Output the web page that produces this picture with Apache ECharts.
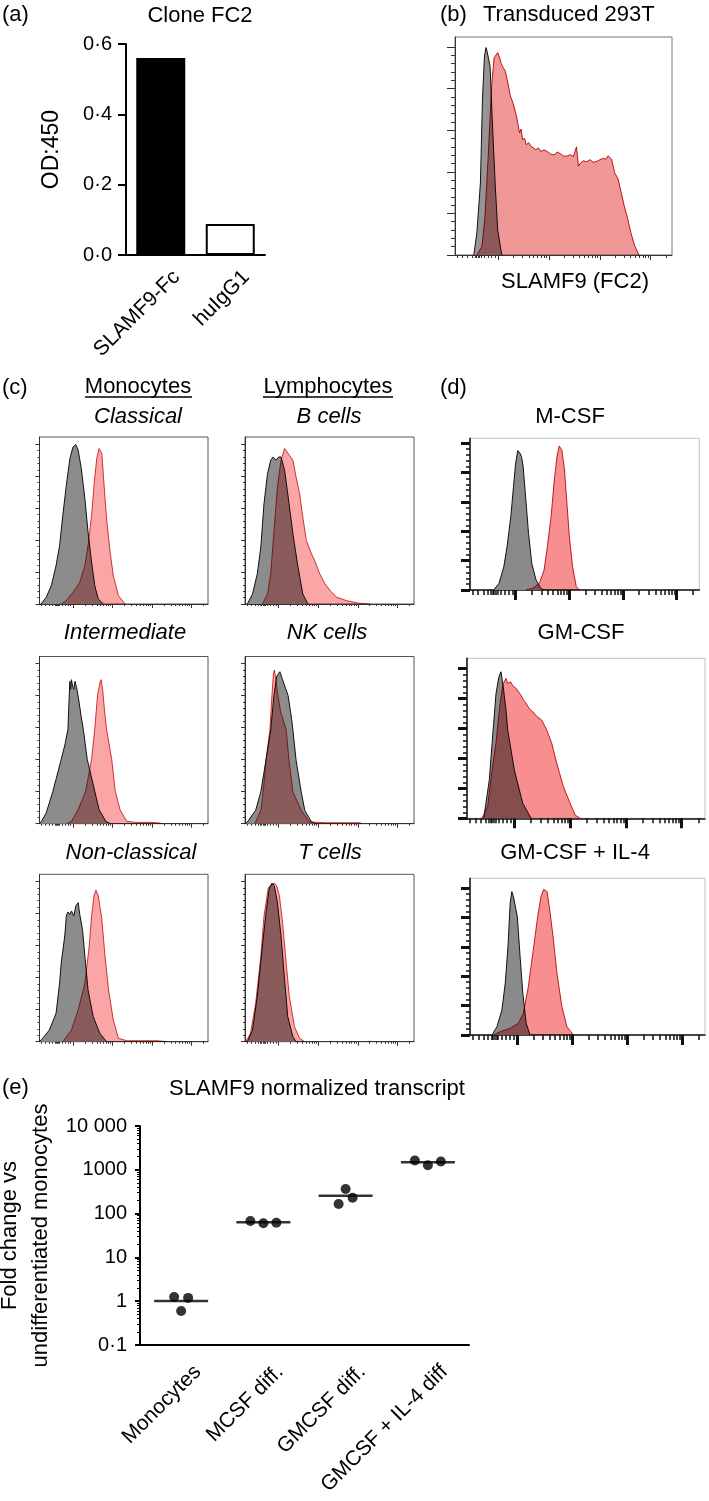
<!DOCTYPE html>
<html><head><meta charset="utf-8">
<script src="https://cdn.jsdelivr.net/npm/echarts@6/dist/echarts.min.js"></script>
<style>html,body{margin:0;padding:0;background:#fff}#c{width:709px;height:1501px}</style>
</head><body><div id="c"></div><script>
// ================= DATA =================
// (a) ELISA, clone FC2
const A_CATEGORIES = ['SLAMF9-Fc', 'huIgG1'];
const A_VALUES = [0.56, 0.088];
const A_TICK_LABELS = ['0·0', '0·2', '0·4', '0·6'];

// Flow histograms: [fluorescence (decades), % of mode]
// (b) transduced 293T
const B_ISOTYPE = [[1.52,0],[1.58,10.5],[1.65,34.6],[1.69,74.8],[1.73,95.7],[1.76,99.7],[1.78,98],[1.81,97.3],[1.84,90.8],[1.88,66.6],[1.94,34.4],[1.99,12],[2.07,0]];
const B_SLAMF9 = [[1.58,0],[1.68,4],[1.74,18.3],[1.81,50.5],[1.87,81],[1.92,94.8],[1.99,97.3],[2.03,94.8],[2.06,92],[2.10,90],[2.14,88.4],[2.19,82.8],[2.24,76.4],[2.29,73.2],[2.36,66.7],[2.42,58.7],[2.45,60.5],[2.48,55.5],[2.52,56],[2.55,53],[2.6,54],[2.65,52.1],[2.7,51.5],[2.74,50.5],[2.79,51.5],[2.84,49.7],[2.9,50.5],[2.97,49.7],[3.03,48.5],[3.1,48.1],[3.16,49.5],[3.23,48.6],[3.29,47.5],[3.36,47.6],[3.42,48.2],[3.48,47.3],[3.54,52],[3.58,42.8],[3.63,44.5],[3.68,45.3],[3.74,44.8],[3.81,45.8],[3.87,44.6],[3.94,45],[4.0,45.8],[4.07,46.5],[4.12,46],[4.16,47.7],[4.23,46.1],[4.29,39.7],[4.36,36.5],[4.42,30],[4.48,23.6],[4.55,17.2],[4.61,10.8],[4.68,4.8],[4.77,0]];
// (c) monocytes
const C_CLASSICAL_ISOTYPE = [[1.19,0],[1.32,4.2],[1.45,11.5],[1.57,24.1],[1.66,36.6],[1.74,55.4],[1.83,74.3],[1.92,91],[2.0,98.3],[2.07,99.8],[2.13,96.2],[2.21,84.7],[2.3,66],[2.38,45],[2.47,26.2],[2.55,11.5],[2.64,3.1],[2.77,0]];
const C_CLASSICAL_SLAMF9 = [[1.7,0],[1.83,2.1],[2.0,7.3],[2.17,13.6],[2.3,24.1],[2.38,36.6],[2.47,55.4],[2.54,76.4],[2.6,91],[2.66,97.3],[2.73,94.1],[2.78,76.4],[2.85,53.3],[2.94,32.4],[3.02,17.8],[3.15,5.2],[3.32,0]];
const C_INTERMEDIATE_ISOTYPE = [[1.15,0],[1.2,1.5],[1.32,6.7],[1.49,20.3],[1.70,40.2],[1.80,50],[1.87,59],[1.9,78],[1.92,89],[1.94,84],[1.96,90],[1.99,86],[2.02,84],[2.05,89],[2.09,85],[2.14,78],[2.2,68],[2.26,59],[2.36,40.2],[2.55,20.3],[2.66,8.8],[2.83,1.5],[2.95,0]];
const C_INTERMEDIATE_SLAMF9 = [[1.85,0],[1.96,1.5],[2.13,8.8],[2.32,20.3],[2.47,40.2],[2.55,59],[2.62,80],[2.68,88],[2.71,90],[2.75,84],[2.8,70],[2.85,59],[2.98,40.2],[3.07,20.3],[3.19,8.8],[3.36,1.5],[3.6,0.8],[4.0,0.8],[4.17,0.5],[4.25,0]];
const C_NONCLASSICAL_ISOTYPE = [[1.15,0],[1.23,2.1],[1.4,7.3],[1.57,17.8],[1.66,36.6],[1.7,49.2],[1.79,66],[1.83,78.5],[1.87,81],[1.92,79.5],[1.96,81.6],[2.02,78.5],[2.07,84.7],[2.13,86.8],[2.17,79.5],[2.24,70],[2.3,53.3],[2.38,32.4],[2.51,15.7],[2.68,5.2],[2.85,0]];
const C_NONCLASSICAL_SLAMF9 = [[1.74,0],[1.96,7.3],[2.13,19.9],[2.3,36.6],[2.41,59.6],[2.47,78.5],[2.53,91],[2.58,94.6],[2.64,91],[2.73,76.4],[2.81,53.3],[2.9,32.4],[3.02,13.6],[3.15,2.1],[3.36,0.6],[4.13,0.6],[4.39,0]];
// (c) lymphocytes
const C_BCELLS_ISOTYPE = [[1.21,0],[1.34,6.3],[1.46,18.8],[1.55,35.6],[1.63,62.8],[1.72,81.6],[1.8,90],[1.86,92],[1.93,90],[2.0,92],[2.06,92],[2.15,83.7],[2.23,69],[2.36,44],[2.49,23],[2.61,6.3],[2.74,0]];
const C_BCELLS_SLAMF9 = [[1.59,0],[1.72,6.3],[1.8,18.8],[1.89,48.1],[1.97,73.2],[2.06,90],[2.15,97.3],[2.2,96.2],[2.27,93.1],[2.36,90],[2.44,79.5],[2.53,69],[2.61,54.4],[2.7,39.7],[2.83,31.4],[2.91,27.2],[3.04,18.8],[3.17,12.6],[3.3,8.4],[3.47,4.2],[3.72,2.1],[4.02,0.5],[4.3,0]];
const C_NK_ISOTYPE = [[1.15,0],[1.21,1.1],[1.42,8.4],[1.55,19.9],[1.68,39.8],[1.80,58.7],[1.88,80],[1.95,92],[2.03,95],[2.1,90],[2.24,80],[2.33,65],[2.36,58.7],[2.44,39.8],[2.57,19.9],[2.66,8.4],[2.83,1.1],[2.95,0]];
const C_NK_SLAMF9 = [[1.4,0],[1.42,1.1],[1.55,8.4],[1.61,19.9],[1.68,39.8],[1.78,58.7],[1.83,80],[1.87,94],[1.89,96],[1.92,92],[1.97,82],[2.05,70],[2.19,58.7],[2.26,39.8],[2.36,19.9],[2.57,8.4],[2.78,1.1],[3.2,0.6],[4.06,0.6],[4.1,0]];
const C_TCELLS_ISOTYPE = [[1.21,0],[1.34,7.3],[1.46,28.2],[1.59,59.6],[1.68,80.5],[1.76,95.2],[1.83,99],[1.89,97.3],[1.97,86.8],[2.06,65.9],[2.15,38.7],[2.23,15.7],[2.36,3.1],[2.44,0]];
const C_TCELLS_SLAMF9 = [[1.17,0],[1.29,5.2],[1.42,24.1],[1.55,53.3],[1.63,78.5],[1.74,96.2],[1.83,98],[1.89,99],[1.95,97.3],[2.02,91],[2.1,74.3],[2.19,49.2],[2.27,28.2],[2.4,9.4],[2.53,2.1],[2.66,0]];
// (d) differentiated monocytes
const D_MCSF_ISOTYPE = [[1.59,0],[1.69,4.5],[1.78,15.9],[1.84,29.5],[1.91,50],[1.96,70.5],[2.0,86.4],[2.04,95],[2.08,93.2],[2.11,90.9],[2.14,84.1],[2.19,61.4],[2.24,38.6],[2.3,18.2],[2.38,6.8],[2.47,1.1],[2.53,0]];
const D_MCSF_SLAMF9 = [[2.19,0],[2.31,1.1],[2.44,4.5],[2.53,13.6],[2.59,29.5],[2.66,50],[2.72,75],[2.77,90.9],[2.81,98.2],[2.86,95.5],[2.91,81.8],[2.95,61.4],[3.0,36.4],[3.06,15.9],[3.13,2.3],[3.19,0]];
const D_GMCSF_ISOTYPE = [[1.45,0],[1.55,25.5],[1.6,50],[1.67,83],[1.72,94],[1.76,97.7],[1.8,87.7],[1.85,72],[1.88,58.9],[2.0,32],[2.15,10],[2.3,0]];
const D_GMCSF_SLAMF9 = [[1.42,0],[1.52,7.7],[1.6,32],[1.67,50],[1.73,72],[1.79,89],[1.85,93.3],[1.88,90],[1.93,91],[1.98,88],[2.03,86.7],[2.08,84],[2.12,82],[2.16,79],[2.21,76.7],[2.27,73],[2.33,71],[2.4,68],[2.49,65.5],[2.58,58.9],[2.67,50],[2.76,36.7],[2.88,21],[3.0,10],[3.09,2.2],[3.18,0]];
const D_GMCSF_IL4_ISOTYPE = [[1.55,0],[1.64,5.7],[1.73,17],[1.79,35.2],[1.84,60.2],[1.88,89.8],[1.91,97.7],[1.94,94.1],[1.97,93.2],[2.01,80.7],[2.06,53.4],[2.11,28.4],[2.17,8],[2.24,0]];
const D_GMCSF_IL4_SLAMF9 = [[1.58,0],[1.7,2.3],[1.88,4.5],[2.03,8],[2.12,14.8],[2.21,32.9],[2.3,58],[2.38,80.7],[2.44,94.3],[2.49,99.3],[2.55,97.7],[2.59,87.5],[2.66,67],[2.73,42],[2.82,19.3],[2.91,5.7],[3.03,0]];

// Flow axis tick positions (decades)
const FLOW_DECADES = [2, 3, 4, 5];
const FLOW_NEAR_ZERO_TICKS = [1.2, 1.3, 1.4, 1.48, 1.54, 1.57, 1.6, 1.63, 1.66, 1.72, 1.8, 1.87, 1.94];
const FLOW_Y_MAJOR = [0, 20, 40, 60, 80, 100];

// (e) qPCR
const E_CATEGORIES = ['Monocytes', 'MCSF diff.', 'GMCSF diff.', 'GMCSF + IL-4 diff'];
const E_MONOCYTES = [1.25, 0.60, 1.19];
const E_MCSF = [67.8, 60, 62];
const E_GMCSF = [166, 365, 231];
const E_GMCSF_IL4 = [1625, 1275, 1541];
const E_TICK_VALUES = [0.1, 1, 10, 100, 1000, 10000];
const E_TICK_LABELS = ['0·1', '1', '10', '100', '1000', '10 000'];

// ================= STYLE / LAYOUT =================
const FONT = "'Liberation Sans', Arial, Helvetica, sans-serif";
const TICK_FONT = FONT;
const TICK_SIZE = 20;
const X_MIN = 1.15, X_MAX = 5.42;
const E_JITTER = [[-7, 0, 7], [-13, 0, 13], [-7, 0, 7], [-13, 0, 13]];

const STYLE_THIN_B = {border:'#777', axis:'#333', axisW:1, xMaj:5, xMin:3, yMaj:8, yMin:4, majW:1, minW:1, red:'#ef9797', redLine:'#c4161c', gray:'#959595'};
const STYLE_THIN_C = {border:'#555', axis:'#333', axisW:1, xMaj:4, xMin:2, yMaj:4, yMin:2, majW:1, minW:1, red:'#fba6a6', redLine:'#d43a3a', gray:'#8c8c8c'};
const STYLE_THICK_D = {border:'#c4c4c4', axis:'#111', axisW:1.5, xMaj:10, xMin:5, yMaj:9, yMin:4, majW:3, minW:1.5, red:'#f78e90', redLine:'#c81e24', gray:'#8a8a8a'};

const FLOW_PANELS = [
  {box:[455,37,672,255], yMax:104.8, iso:B_ISOTYPE, pos:B_SLAMF9, st:STYLE_THIN_B},
  {box:[39.5,437,208,604], yMax:104.5, iso:C_CLASSICAL_ISOTYPE, pos:C_CLASSICAL_SLAMF9, st:STYLE_THIN_C},
  {box:[245,437,414,604], yMax:104.5, iso:C_BCELLS_ISOTYPE, pos:C_BCELLS_SLAMF9, st:STYLE_THIN_C},
  {box:[39.5,656.5,208,823.7], yMax:104.5, iso:C_INTERMEDIATE_ISOTYPE, pos:C_INTERMEDIATE_SLAMF9, st:STYLE_THIN_C},
  {box:[245,656.5,414,823.7], yMax:104.5, iso:C_NK_ISOTYPE, pos:C_NK_SLAMF9, st:STYLE_THIN_C},
  {box:[39.5,874.3,208,1041.7], yMax:104.5, iso:C_NONCLASSICAL_ISOTYPE, pos:C_NONCLASSICAL_SLAMF9, st:STYLE_THIN_C},
  {box:[245,874.3,414,1041.7], yMax:104.5, iso:C_TCELLS_ISOTYPE, pos:C_TCELLS_SLAMF9, st:STYLE_THIN_C},
  {box:[470,438.3,699.3,590], yMax:103.4, iso:D_MCSF_ISOTYPE, pos:D_MCSF_SLAMF9, st:STYLE_THICK_D},
  {box:[467,658.3,705,818.3], yMax:106.7, iso:D_GMCSF_ISOTYPE, pos:D_GMCSF_SLAMF9, st:STYLE_THICK_D},
  {box:[470,878.3,705,1035], yMax:106.8, iso:D_GMCSF_IL4_ISOTYPE, pos:D_GMCSF_IL4_SLAMF9, st:STYLE_THICK_D}
];

// derived tick lists
const FLOW_X_MINOR = FLOW_NEAR_ZERO_TICKS.slice();
FLOW_DECADES.forEach(d => { for (let k = 2; k <= 9; k++) { const v = d + Math.log10(k); if (v < X_MAX) FLOW_X_MINOR.push(v); } });
const FLOW_Y_MINOR = [];
for (let i = 0; i < FLOW_Y_MAJOR.length - 1; i++) for (let k = 1; k < 5; k++) FLOW_Y_MINOR.push(FLOW_Y_MAJOR[i] + k * 4);
const E_MINOR = [];
for (let e = -1; e < 4; e++) for (let k = 2; k <= 9; k++) E_MINOR.push(+(k * Math.pow(10, e)).toPrecision(3));

const grids = [], xAxes = [], yAxes = [], series = [];
function addGrid(box, extra) {
  grids.push(Object.assign({left:box[0], top:box[1], width:box[2]-box[0], height:box[3]-box[1], containLabel:false, outerBoundsMode:'none'}, extra || {}));
  return grids.length - 1;
}

// ----- (a) -----
(function(){
  const gi = addGrid([126,44,265,255]);
  const xi = xAxes.length, yi = yAxes.length;
  xAxes.push({gridIndex:gi, type:'category', data:A_CATEGORIES,
    axisLine:{lineStyle:{color:'#000', width:2}},
    axisTick:{alignWithLabel:true, length:6, lineStyle:{color:'#000', width:2}},
    axisLabel:{rotate:45, interval:0, margin:3, verticalAlign:'top', padding:[12,0,0,0], fontSize:21, color:'#000', fontFamily:FONT}});
  yAxes.push({gridIndex:gi, type:'value', min:0, max:0.6, interval:0.2,
    name:'OD:450', nameLocation:'middle', nameGap:63, nameTextStyle:{fontSize:23, color:'#000', fontFamily:FONT},
    axisLine:{show:true, lineStyle:{color:'#000', width:2}},
    axisTick:{show:true, length:8, lineStyle:{color:'#000', width:2}},
    splitLine:{show:false},
    axisLabel:{fontSize:TICK_SIZE, color:'#000', fontFamily:TICK_FONT, margin:14, formatter:v => A_TICK_LABELS[Math.round(v/0.2)]}});
  series.push({type:'bar', xAxisIndex:xi, yAxisIndex:yi, barWidth:49, animation:false, silent:true,
    data:A_VALUES.map((v,i) => ({value:v, itemStyle:{color: i === 0 ? '#000' : '#fff', borderColor:'#000', borderWidth:2}}))});
})();

// ----- flow panels -----
FLOW_PANELS.forEach(p => {
  const st = p.st;
  const gi = addGrid(p.box, {show:true, borderColor:st.border, borderWidth:1, backgroundColor:'transparent'});
  const xi = xAxes.length, yi = yAxes.length;
  const baseX = {gridIndex:gi, type:'value', min:X_MIN, max:X_MAX, position:'bottom', axisLabel:{show:false}, splitLine:{show:false}};
  xAxes.push(Object.assign({}, baseX, {axisLine:{show:true, onZero:false, lineStyle:{color:st.axis, width:st.axisW}},
    axisTick:{show:true, customValues:FLOW_DECADES, length:st.xMaj, lineStyle:{color:st.axis, width:st.majW}}}));
  xAxes.push(Object.assign({}, baseX, {axisLine:{show:false, onZero:false},
    axisTick:{show:true, customValues:FLOW_X_MINOR, length:st.xMin, lineStyle:{color:st.axis, width:st.minW}}}));
  const baseY = {gridIndex:gi, type:'value', min:0, max:p.yMax, position:'left', axisLabel:{show:false}, splitLine:{show:false}};
  yAxes.push(Object.assign({}, baseY, {axisLine:{show:true, onZero:false, lineStyle:{color:st.axis, width:st.axisW}},
    axisTick:{show:true, customValues:FLOW_Y_MAJOR, length:st.yMaj, lineStyle:{color:st.axis, width:st.majW}}}));
  yAxes.push(Object.assign({}, baseY, {axisLine:{show:false, onZero:false},
    axisTick:{show:true, customValues:FLOW_Y_MINOR, length:st.yMin, lineStyle:{color:st.axis, width:st.minW}}}));
  series.push({type:'line', xAxisIndex:xi, yAxisIndex:yi, data:p.iso, symbol:'none', smooth:false, animation:false, silent:true, z:2,
    lineStyle:{color:'#111', width:1}, areaStyle:{color:st.gray, opacity:1, origin:'start'}});
  series.push({type:'line', xAxisIndex:xi, yAxisIndex:yi, data:p.pos, symbol:'none', smooth:false, animation:false, silent:true, z:3,
    blendMode:'multiply', lineStyle:{color:st.redLine, width:1}, areaStyle:{color:st.red, opacity:1, origin:'start'}});
});

// ----- (e) -----
(function(){
  const gi = addGrid([140,1126,469,1345]);
  const xi = xAxes.length, yi = yAxes.length;
  xAxes.push({gridIndex:gi, type:'category', data:E_CATEGORIES, boundaryGap:true,
    axisLine:{lineStyle:{color:'#000', width:2}},
    axisTick:{alignWithLabel:true, length:6, lineStyle:{color:'#000', width:2}},
    axisLabel:{rotate:45, interval:0, margin:7, verticalAlign:'top', padding:[13,0,0,0], fontSize:21, color:'#000', fontFamily:FONT}});
  yAxes.push({gridIndex:gi, type:'log', logBase:10, min:0.1, max:10000, position:'left',
    name:'Fold change vs\nundifferentiated monocytes', nameLocation:'middle', nameGap:84,
    nameTextStyle:{fontSize:22, color:'#000', fontFamily:FONT, lineHeight:31},
    axisLine:{show:true, lineStyle:{color:'#000', width:2}},
    axisTick:{show:true, customValues:E_TICK_VALUES, length:5, lineStyle:{color:'#000', width:2}},
    splitLine:{show:false}, minorTick:{show:false},
    axisLabel:{customValues:E_TICK_VALUES, fontSize:TICK_SIZE, color:'#000', fontFamily:TICK_FONT, margin:13,
      formatter:v => E_TICK_LABELS[Math.round(Math.log10(v)) + 1]}});
  yAxes.push({gridIndex:gi, type:'log', logBase:10, min:0.1, max:10000, position:'left',
    axisLine:{show:false}, axisLabel:{show:false}, splitLine:{show:false},
    axisTick:{show:true, customValues:E_MINOR, length:3, lineStyle:{color:'#000', width:1}}});
  const groups = [E_MONOCYTES, E_MCSF, E_GMCSF, E_GMCSF_IL4];
  const dots = [], means = [];
  groups.forEach((vals, ci) => {
    vals.forEach((v, j) => dots.push({value:[ci, v], symbolOffset:[E_JITTER[ci][j], 0]}));
    means.push([ci, vals.reduce((s, v) => s + v, 0) / vals.length]);
  });
  series.push({type:'scatter', xAxisIndex:xi, yAxisIndex:yi, data:means, symbol:'rect', symbolSize:[54, 2.5],
    itemStyle:{color:'#000'}, animation:false, silent:true, z:2});
  series.push({type:'scatter', xAxisIndex:xi, yAxisIndex:yi, data:dots, symbol:'circle', symbolSize:10,
    itemStyle:{color:'#000'}, animation:false, silent:true, z:3});
})();

// ----- texts -----
function txt(x, y, text, opts) {
  opts = opts || {};
  const align = opts.align || 'center';
  return {type:'text', x:x, y:y, silent:true, style:Object.assign({
    text:text, fill:'#000', fontSize:opts.size || 22, fontFamily:FONT, fontStyle:opts.italic ? 'italic' : 'normal',
    align:align, textAlign:align, verticalAlign:'middle', textVerticalAlign:'middle'})};
}
function uline(x1, x2, y) { return {type:'line', silent:true, shape:{x1:x1, y1:y, x2:x2, y2:y}, style:{stroke:'#000', lineWidth:1.3}}; }
const texts = [
  txt(2, 15, '(a)', {align:'left'}),
  txt(200, 16, 'Clone FC2'),
  txt(440, 15, '(b)', {align:'left'}),
  txt(483, 15, 'Transduced 293T', {align:'left'}),
  txt(575, 282, 'SLAMF9 (FC2)'),
  txt(2, 388, '(c)', {align:'left'}),
  txt(138, 387, 'Monocytes'), uline(85, 192, 397),
  txt(328, 387, 'Lymphocytes'), uline(263, 393, 397),
  txt(138, 417, 'Classical', {italic:true}),
  txt(329, 417, 'B cells', {italic:true}),
  txt(125, 633, 'Intermediate', {italic:true}),
  txt(327, 633, 'NK cells', {italic:true}),
  txt(131, 853, 'Non-classical', {italic:true}),
  txt(330, 853, 'T cells', {italic:true}),
  txt(440, 388, '(d)', {align:'left'}),
  txt(570, 417, 'M-CSF'),
  txt(581, 633, 'GM-CSF'),
  txt(575, 853, 'GM-CSF + IL-4'),
  txt(2, 1088, '(e)', {align:'left'}),
  txt(317, 1089, 'SLAMF9 normalized transcript')
];

const chart = echarts.init(document.getElementById('c'), null, {renderer:'canvas'});
chart.setOption({
  backgroundColor:'#fff', animation:false,
  textStyle:{fontFamily:FONT},
  grid:grids, xAxis:xAxes, yAxis:yAxes, series:series,
  graphic:{elements:texts}
});
</script></body></html>
